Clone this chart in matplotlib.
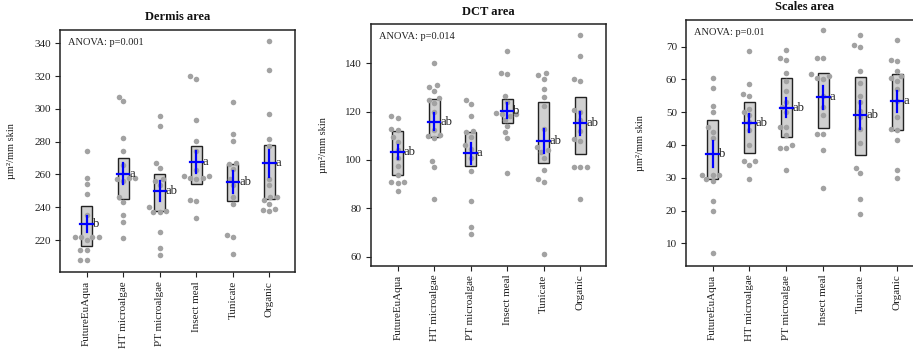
import numpy as np
import matplotlib
matplotlib.use('Agg')
import matplotlib.pyplot as plt
from matplotlib.patches import Rectangle

plt.rcParams['font.family'] = ['Liberation Serif', 'DejaVu Serif']

groups = ['FutureEuAqua', 'HT microalgae', 'PT microalgae', 'Insect meal', 'Tunicate', 'Organic']

# Dermis area
dermis_pts = [
    [274, 258, 254, 248, 235, 222, 222, 222, 222, 220, 214, 214, 208, 208],
    [307.5, 304.5, 282, 274, 266, 258, 258, 257, 256, 246, 243, 235, 231, 221],
    [295.5, 289.5, 267, 264, 257, 256, 253.5, 240, 238, 237, 237, 225, 215, 211],
    [320, 318.5, 293, 280.5, 274, 263, 259, 259, 258, 258, 257, 244.5, 244, 233.5],
    [304, 284.5, 280.5, 267, 266.5, 263.5, 257, 253.5, 246.5, 242, 223, 222, 211.5],
    [341.5, 324, 297, 281.5, 277.5, 257.5, 253.5, 246.5, 246, 244.5, 242, 239, 238.5, 237.5],
]
dermis_mean = [229.8, 260.3, 249.9, 267.6, 255.6, 266.8]
dermis_se = [5.0, 6.4, 6.0, 7.0, 6.8, 8.4]
dermis_lo = [216.4, 244.8, 237.7, 254.2, 244.0, 244.8]
dermis_hi = [241.0, 269.8, 260.1, 277.1, 266.2, 277.9]
dermis_letters = ['b', 'a', 'ab', 'a', 'ab', 'a']

# DCT area
dct_pts = [
    [118, 117.5, 113, 112.5, 109.5, 107.5, 104, 101, 97.5, 94, 91, 91, 90.5, 87],
    [140, 131, 130, 128.5, 125.5, 125, 123.5, 120, 112.5, 110.5, 110, 109, 99.5, 97, 84],
    [125, 123, 118, 112, 111.5, 109.5, 106, 104.5, 101, 95.5, 83, 72.5, 69.5],
    [145, 136, 135.5, 126.5, 124, 119.5, 119, 119, 118, 116.5, 114, 111.5, 109, 94.5],
    [136, 135, 133.5, 129.5, 126, 122.5, 113, 105.5, 104, 103.5, 101, 96, 92, 91, 61],
    [151.5, 143, 133.5, 132.5, 120.5, 120, 116.5, 112, 108.5, 108, 97, 97, 97, 84],
]
dct_mean = [103.4, 115.8, 102.8, 120.4, 108.0, 115.2]
dct_se = [2.9, 3.6, 4.3, 3.1, 5.0, 4.7]
dct_lo = [93.6, 109.4, 97.6, 115.2, 98.6, 102.3]
dct_hi = [112.1, 125.2, 111.4, 125.1, 123.9, 125.9]
dct_letters = ['ab', 'ab', 'a', 'b', 'ab', 'ab']

# Scales area
scales_pts = [
    [60.5, 57.5, 52, 50, 45.5, 44, 42, 31, 31, 31, 29.5, 29, 23, 20, 7],
    [68.5, 58.5, 55.5, 55, 51, 50, 49, 47, 44.5, 40, 35, 35, 34, 29.5],
    [69, 66.5, 66, 62, 59.5, 56.5, 53, 51.5, 50, 45.5, 45.5, 43, 40, 39, 39, 32.5],
    [75, 66.5, 66.5, 61.5, 61, 60.5, 60, 55, 51.5, 49, 43.5, 43.5, 38.5, 27],
    [73.5, 70.5, 70, 62.5, 59, 55, 53, 50.5, 48.5, 45, 40.5, 33, 31.5, 23.5, 19],
    [72, 66, 65.5, 62.5, 61, 60.5, 59.5, 57, 53.5, 48.5, 45, 44.5, 41.5, 32.5, 30],
]
scales_mean = [37.3, 46.8, 51.4, 54.6, 49.2, 53.4]
scales_se = [3.9, 2.7, 3.0, 3.5, 4.2, 3.2]
scales_lo = [29.6, 37.7, 42.5, 45.3, 36.8, 44.6]
scales_hi = [47.6, 53.2, 60.4, 61.9, 60.7, 61.6]
scales_letters = ['b', 'ab', 'ab', 'a', 'ab', 'a']

W, H = 913, 356
fig = plt.figure(figsize=(W / 100, H / 100), dpi=100)

DARK = '#222222'


def swarm_x(ax, x0, vals, dot_px):
    # beeswarm-like placement, done in pixel space
    ys = ax.transData.transform(np.column_stack([np.full(len(vals), x0), vals]))[:, 1]
    placed = []
    out = np.zeros(len(vals))
    for i in np.argsort(vals):
        y = ys[i]
        cands = [0.0]
        for dx, yy in placed:
            dy = abs(y - yy)
            if dy < dot_px:
                h = np.sqrt(dot_px ** 2 - dy ** 2)
                cands += [dx - h, dx + h]
        cands.sort(key=abs)
        for c in cands:
            if all((c - dx) ** 2 + (y - yy) ** 2 >= dot_px ** 2 - 1e-6 for dx, yy in placed):
                break
        placed.append((c, y))
        out[i] = c
    ppu = ax.transData.transform((1, 0))[0] - ax.transData.transform((0, 0))[0]
    return x0 + out / ppu


def px_rect(left, right, top, bottom):
    return [left / W, 1 - bottom / H, (right - left) / W, (bottom - top) / H]


def draw_panel(rect, title, pts, mean, se, lo, hi, letters, ylim, yticks, xlim, anova, ylab_x):
    ax = fig.add_axes(rect)
    ax.set_xlim(xlim)
    ax.set_ylim(ylim)
    xs = np.arange(1, len(groups) + 1)
    for i, x in enumerate(xs):
        ax.add_patch(Rectangle((x - 0.15, lo[i]), 0.3, hi[i] - lo[i], facecolor='#d0d0d0',
                               edgecolor=DARK, lw=1.0, zorder=1))
        sx = swarm_x(ax, x, pts[i], 6.5)
        ax.scatter(sx, pts[i], s=16, color='#a2a2a2', lw=0, zorder=2)
        ax.plot([x - 0.17, x + 0.17], [mean[i], mean[i]], color='#0000ff', lw=1.6, zorder=3)
        ax.plot([x, x], [mean[i] - se[i], mean[i] + se[i]], color='#0000ff', lw=1.6, zorder=3)
        ax.text(x + 0.17, mean[i], letters[i], ha='left', va='center', fontsize=9, color=DARK)
    ax.set_xticks(xs)
    ax.set_xticklabels(groups, rotation=90, fontsize=8, color=DARK)
    ax.set_yticks(yticks)
    ax.tick_params(axis='y', labelsize=8, labelcolor=DARK)
    ax.tick_params(direction='out', length=3.5, width=0.8, color=DARK, pad=3)
    for s in ax.spines.values():
        s.set_color(DARK)
        s.set_linewidth(1.1)
    ax.set_title(title, fontsize=9, fontweight='bold', pad=7, color='#111111')
    ax.set_ylabel('µm²/mm skin', fontsize=7.5, color=DARK)
    ax.yaxis.set_label_coords(ylab_x, 0.5)
    ax.text(0.035, 0.95, anova, transform=ax.transAxes, ha='left', va='center',
            fontsize=7.5, color=DARK)
    return ax


draw_panel(px_rect(60, 295, 30, 272), 'Dermis area', dermis_pts, dermis_mean, dermis_se,
           dermis_lo, dermis_hi, dermis_letters, (200.5, 348.1), range(220, 341, 20),
           (0.27, 6.70), 'ANOVA: p=0.001', -0.187)
draw_panel(px_rect(370.7, 606, 24.3, 265.7), 'DCT area', dct_pts, dct_mean, dct_se,
           dct_lo, dct_hi, dct_letters, (56.3, 156.1), range(60, 141, 20),
           (0.26, 6.71), 'ANOVA: p=0.014', -0.181)
draw_panel(px_rect(686, 923.6, 20, 265.7), 'Scales area', scales_pts, scales_mean, scales_se,
           scales_lo, scales_hi, scales_letters, (3.2, 78.1), range(10, 71, 10),
           (0.28, 6.72), 'ANOVA: p=0.01', -0.173)

fig.savefig('out.png', dpi=100)
